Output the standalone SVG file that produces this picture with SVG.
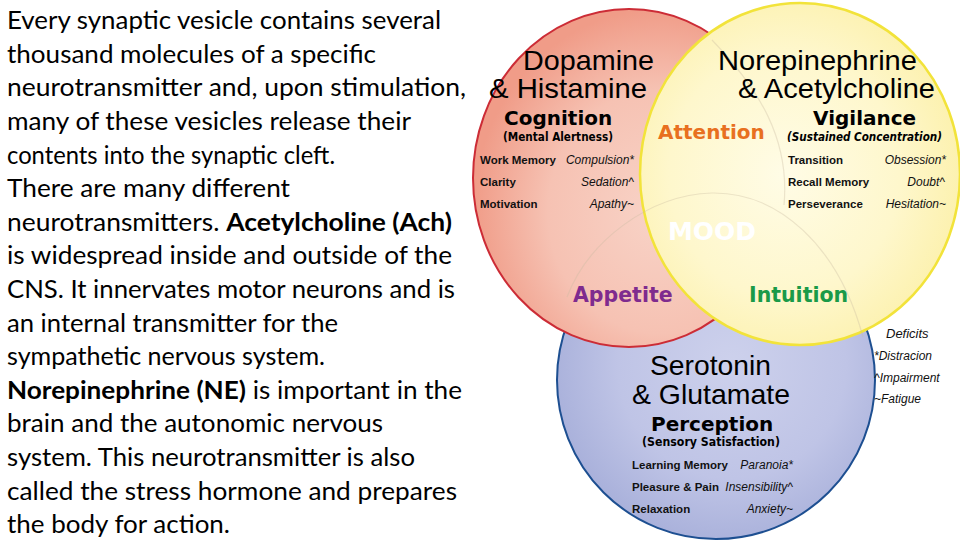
<svg xmlns="http://www.w3.org/2000/svg" width="960" height="540" viewBox="0 0 960 540">
<defs>
<radialGradient id="gRed" cx="0.6" cy="0.6" r="0.6">
<stop offset="0" stop-color="#f8d3c7"/>
<stop offset="0.6" stop-color="#f6c2b3"/>
<stop offset="1" stop-color="#f09c88"/>
</radialGradient>
<radialGradient id="gYel" cx="0.45" cy="0.5" r="0.6">
<stop offset="0" stop-color="#fffce6"/>
<stop offset="0.6" stop-color="#fef7cc"/>
<stop offset="1" stop-color="#fcf0a8"/>
</radialGradient>
<radialGradient id="gBlu" cx="0.55" cy="0.45" r="0.6">
<stop offset="0" stop-color="#cdd1ec"/>
<stop offset="0.6" stop-color="#bfc4e6"/>
<stop offset="1" stop-color="#a6aed9"/>
</radialGradient>
<style>
.para{font-family:Lato,"Open Sans",sans-serif;font-size:25px;fill:#000}
.para .b{font-weight:bold}
.big{font-family:"Liberation Sans",Arial,sans-serif;font-size:28px;fill:#000}
.head{font-family:"DejaVu Sans",Verdana,sans-serif;font-weight:bold;font-size:20px;fill:#000}
.sub{font-family:"DejaVu Sans Condensed","DejaVu Sans",sans-serif;font-weight:bold;font-size:12px;fill:#000}
.it{font-family:"Liberation Sans",Arial,sans-serif;font-style:italic;font-size:12px;fill:#111}
.bd{font-family:"Liberation Sans",Arial,sans-serif;font-weight:bold;font-size:11.5px;fill:#111}
.mid{font-family:"DejaVu Sans",Verdana,sans-serif;font-weight:bold;font-size:20.5px}
</style>
</defs>
<rect width="960" height="540" fill="#ffffff"/>

<g id="paragraph" class="para">
<text x="7" y="29" textLength="434" lengthAdjust="spacingAndGlyphs">Every synaptic vesicle contains several</text>
<text x="7" y="62.5" textLength="369" lengthAdjust="spacingAndGlyphs">thousand molecules of a specific</text>
<text x="7" y="96" textLength="459" lengthAdjust="spacingAndGlyphs">neurotransmitter and, upon stimulation,</text>
<text x="7" y="130" textLength="404" lengthAdjust="spacingAndGlyphs">many of these vesicles release their</text>
<text x="7" y="163.5" textLength="328" lengthAdjust="spacingAndGlyphs">contents into the synaptic cleft.</text>
<text x="7" y="197" textLength="283" lengthAdjust="spacingAndGlyphs">There are many different</text>
<text x="7" y="230.5" textLength="445" lengthAdjust="spacingAndGlyphs">neurotransmitters. <tspan class="b">Acetylcholine (Ach)</tspan></text>
<text x="7" y="264" textLength="445" lengthAdjust="spacingAndGlyphs">is widespread inside and outside of the</text>
<text x="7" y="298" textLength="448" lengthAdjust="spacingAndGlyphs">CNS. It innervates motor neurons and is</text>
<text x="7" y="331.5" textLength="331" lengthAdjust="spacingAndGlyphs">an internal transmitter for the</text>
<text x="7" y="365" textLength="318" lengthAdjust="spacingAndGlyphs">sympathetic nervous system.</text>
<text x="7" y="398.5" textLength="455" lengthAdjust="spacingAndGlyphs"><tspan class="b">Norepinephrine (NE)</tspan> is important in the</text>
<text x="7" y="432" textLength="376" lengthAdjust="spacingAndGlyphs">brain and the autonomic nervous</text>
<text x="7" y="466" textLength="408" lengthAdjust="spacingAndGlyphs">system. This neurotransmitter is also</text>
<text x="7" y="499.5" textLength="450" lengthAdjust="spacingAndGlyphs">called the stress hormone and prepares</text>
<text x="7" y="533" textLength="223" lengthAdjust="spacingAndGlyphs">the body for action.</text>
</g>

<g id="node-serotonin">
<circle cx="716" cy="380" r="159" fill="url(#gBlu)" stroke="#1d4f91" stroke-width="2"/>
</g>
<g id="node-dopamine">
<ellipse cx="629" cy="178" rx="156" ry="169" fill="url(#gRed)" stroke="#cc2c36" stroke-width="2"/>
</g>
<g id="node-norepinephrine">
<ellipse cx="800" cy="174" rx="160" ry="171" fill="url(#gYel)" stroke="#f2e33a" stroke-width="2.5"/>
</g>
<g id="faint-arcs" fill="none" stroke="#c9b9a0" stroke-opacity="0.35" stroke-width="1.2">
<path d="M567,297 C588,242 648,195 712,193 C778,192 838,245 863,337"/>
<path d="M712,40 C760,90 790,140 784,205"/>
</g>

<g id="labels-dopamine">
<text class="big" x="523" y="70" textLength="131" lengthAdjust="spacingAndGlyphs">Dopamine</text>
<text class="big" x="489" y="98" textLength="158" lengthAdjust="spacingAndGlyphs">&amp; Histamine</text>
<text class="head" x="504" y="125">Cognition</text>
<text class="sub" x="503" y="141" textLength="110" lengthAdjust="spacingAndGlyphs">(Mental Alertness)</text>
<text class="bd" x="480" y="164">Work Memory</text>
<text class="it" x="634" y="164" text-anchor="end">Compulsion*</text>
<text class="bd" x="480" y="186">Clarity</text>
<text class="it" x="634" y="186" text-anchor="end">Sedation^</text>
<text class="bd" x="480" y="208">Motivation</text>
<text class="it" x="634" y="208" text-anchor="end">Apathy~</text>
</g>

<g id="labels-norepinephrine">
<text class="big" x="718" y="70" textLength="199" lengthAdjust="spacingAndGlyphs">Norepinephrine</text>
<text class="big" x="738" y="98" textLength="197" lengthAdjust="spacingAndGlyphs">&amp; Acetylcholine</text>
<text class="head" x="813" y="125">Vigilance</text>
<text class="sub" x="787" y="141" textLength="155" lengthAdjust="spacingAndGlyphs" font-style="italic">(Sustained Concentration)</text>
<text class="bd" x="788" y="164">Transition</text>
<text class="it" x="946" y="164" text-anchor="end">Obsession*</text>
<text class="bd" x="788" y="186">Recall Memory</text>
<text class="it" x="945" y="186" text-anchor="end">Doubt^</text>
<text class="bd" x="788" y="208">Perseverance</text>
<text class="it" x="946" y="208" text-anchor="end">Hesitation~</text>
</g>

<g id="labels-overlap">
<text class="head" x="658" y="139" style="fill:#e8701f">Attention</text>
<text class="mid" x="712" y="240" text-anchor="middle" style="font-size:25px;fill:#ffffff">MOOD</text>
<text class="mid" x="573" y="302" fill="#7f2b8e">Appetite</text>
<text class="mid" x="749" y="302" fill="#1a9a48">Intuition</text>
</g>

<g id="labels-serotonin">
<text class="big" x="650" y="375" textLength="121" lengthAdjust="spacingAndGlyphs">Serotonin</text>
<text class="big" x="632" y="404" textLength="158" lengthAdjust="spacingAndGlyphs">&amp; Glutamate</text>
<text class="head" x="651" y="431">Perception</text>
<text class="sub" x="642" y="446" textLength="138" lengthAdjust="spacingAndGlyphs">(Sensory Satisfaction)</text>
<text class="bd" x="632" y="469">Learning Memory</text>
<text class="it" x="793" y="469" text-anchor="end">Paranoia*</text>
<text class="bd" x="632" y="491">Pleasure &amp; Pain</text>
<text class="it" x="793" y="491" text-anchor="end">Insensibility^</text>
<text class="bd" x="632" y="513">Relaxation</text>
<text class="it" x="793" y="513" text-anchor="end">Anxiety~</text>
</g>

<g id="legend-deficits">
<text class="it" x="886" y="338" style="font-size:13px">Deficits</text>
<text class="it" x="874" y="360">*Distracion</text>
<text class="it" x="874" y="382">^Impairment</text>
<text class="it" x="874" y="403">~Fatigue</text>
</g>
</svg>
